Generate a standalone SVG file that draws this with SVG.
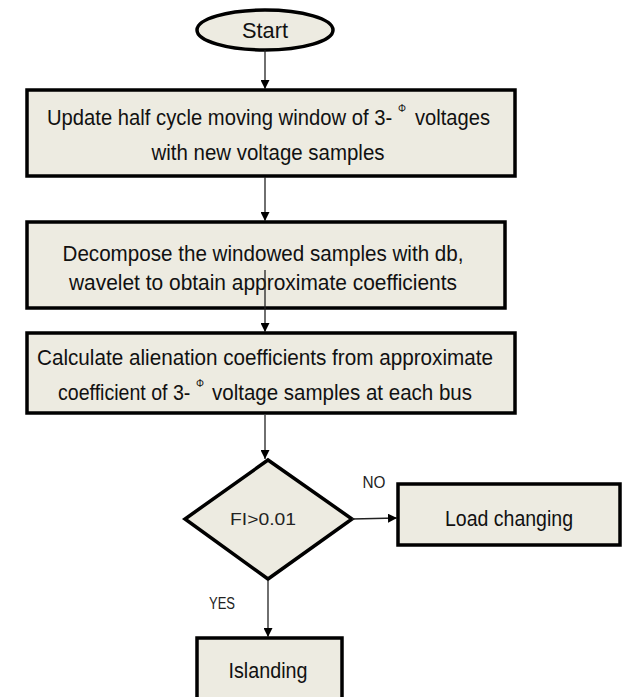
<svg xmlns="http://www.w3.org/2000/svg" width="626" height="697" viewBox="0 0 626 697">
<defs>
<marker id="ah" viewBox="0 0 10 10" refX="10" refY="5" markerWidth="9" markerHeight="9" markerUnits="userSpaceOnUse" orient="auto"><path d="M0,0 L10,5 L0,10 z" fill="#000"/></marker>
<style>
.shape{fill:#EDEBE1;stroke:#000;stroke-width:3.5}
.t{font-family:"Liberation Sans Narrow","Liberation Sans",Arial,sans-serif;font-size:22px;fill:#111;text-anchor:middle}
.l{font-family:"Liberation Sans Narrow","Liberation Sans",Arial,sans-serif;font-size:22px;fill:#111;text-anchor:start}
.s{font-family:"Liberation Sans Narrow","Liberation Sans",Arial,sans-serif;font-size:16px;fill:#222;text-anchor:middle}
.phi{font-family:"Liberation Sans",Arial,sans-serif;font-size:10px;fill:#111;text-anchor:middle}
.c{fill:none;stroke:#222;stroke-width:1.3;marker-end:url(#ah)}
</style>
</defs>
<rect width="626" height="697" fill="#fff"/>
<g id="start">
<ellipse class="shape" cx="265" cy="30" rx="68" ry="20"/>
<text class="t" x="265" y="38" textLength="46" lengthAdjust="spacingAndGlyphs">Start</text>
</g>
<g id="update">
<rect class="shape" x="27" y="90" width="488" height="86"/>
<text class="l" x="0" y="0" transform="translate(47,125) scale(0.92,1)">Update half cycle moving window of 3-</text>
<text class="phi" x="402" y="112">Φ</text>
<text class="l" x="415" y="125" textLength="75" lengthAdjust="spacingAndGlyphs">voltages</text>
<text class="t" x="268" y="160" textLength="233" lengthAdjust="spacingAndGlyphs">with new voltage samples</text>
</g>
<g id="decompose">
<rect class="shape" x="27" y="222" width="478" height="86"/>
<text class="t" x="263" y="261" textLength="401" lengthAdjust="spacingAndGlyphs">Decompose the windowed samples with db,</text>
<text class="t" x="263" y="290" textLength="388" lengthAdjust="spacingAndGlyphs">wavelet to obtain approximate coefficients</text>
</g>
<g id="calculate">
<rect class="shape" x="27" y="333" width="488" height="80"/>
<text class="t" x="265" y="365" textLength="456" lengthAdjust="spacingAndGlyphs">Calculate alienation coefficients from approximate</text>
<text class="l" x="0" y="0" transform="translate(58,400) scale(0.89,1)">coefficient of 3-</text>
<text class="phi" x="200" y="387">Φ</text>
<text class="l" x="212" y="400" textLength="260" lengthAdjust="spacingAndGlyphs">voltage samples at each bus</text>
</g>
<g id="decision">
<polygon class="shape" points="268,460 352,519 268,579 185,519"/>
<text class="s" x="263" y="525" textLength="66" lengthAdjust="spacingAndGlyphs">FI&gt;0.01</text>
</g>
<g id="load">
<rect class="shape" x="398" y="484" width="222" height="61"/>
<text class="t" x="509" y="526" textLength="128" lengthAdjust="spacingAndGlyphs">Load changing</text>
</g>
<g id="islanding">
<rect class="shape" x="197" y="638" width="145" height="70"/>
<text class="t" x="268" y="678" textLength="79" lengthAdjust="spacingAndGlyphs">Islanding</text>
</g>
<g id="connectors">
<line class="c" x1="265" y1="50" x2="265" y2="89"/>
<line class="c" x1="265" y1="177" x2="265" y2="221"/>
<line class="c" x1="265" y1="270" x2="265" y2="332"/>
<line class="c" x1="265" y1="415" x2="265" y2="459"/>
<line class="c" x1="352" y1="519" x2="397" y2="518"/>
<line class="c" x1="268" y1="580" x2="268" y2="637"/>
<text class="s" x="374" y="488" textLength="23" lengthAdjust="spacingAndGlyphs">NO</text>
<text class="s" x="222" y="609" textLength="26" lengthAdjust="spacingAndGlyphs">YES</text>
</g>
</svg>
